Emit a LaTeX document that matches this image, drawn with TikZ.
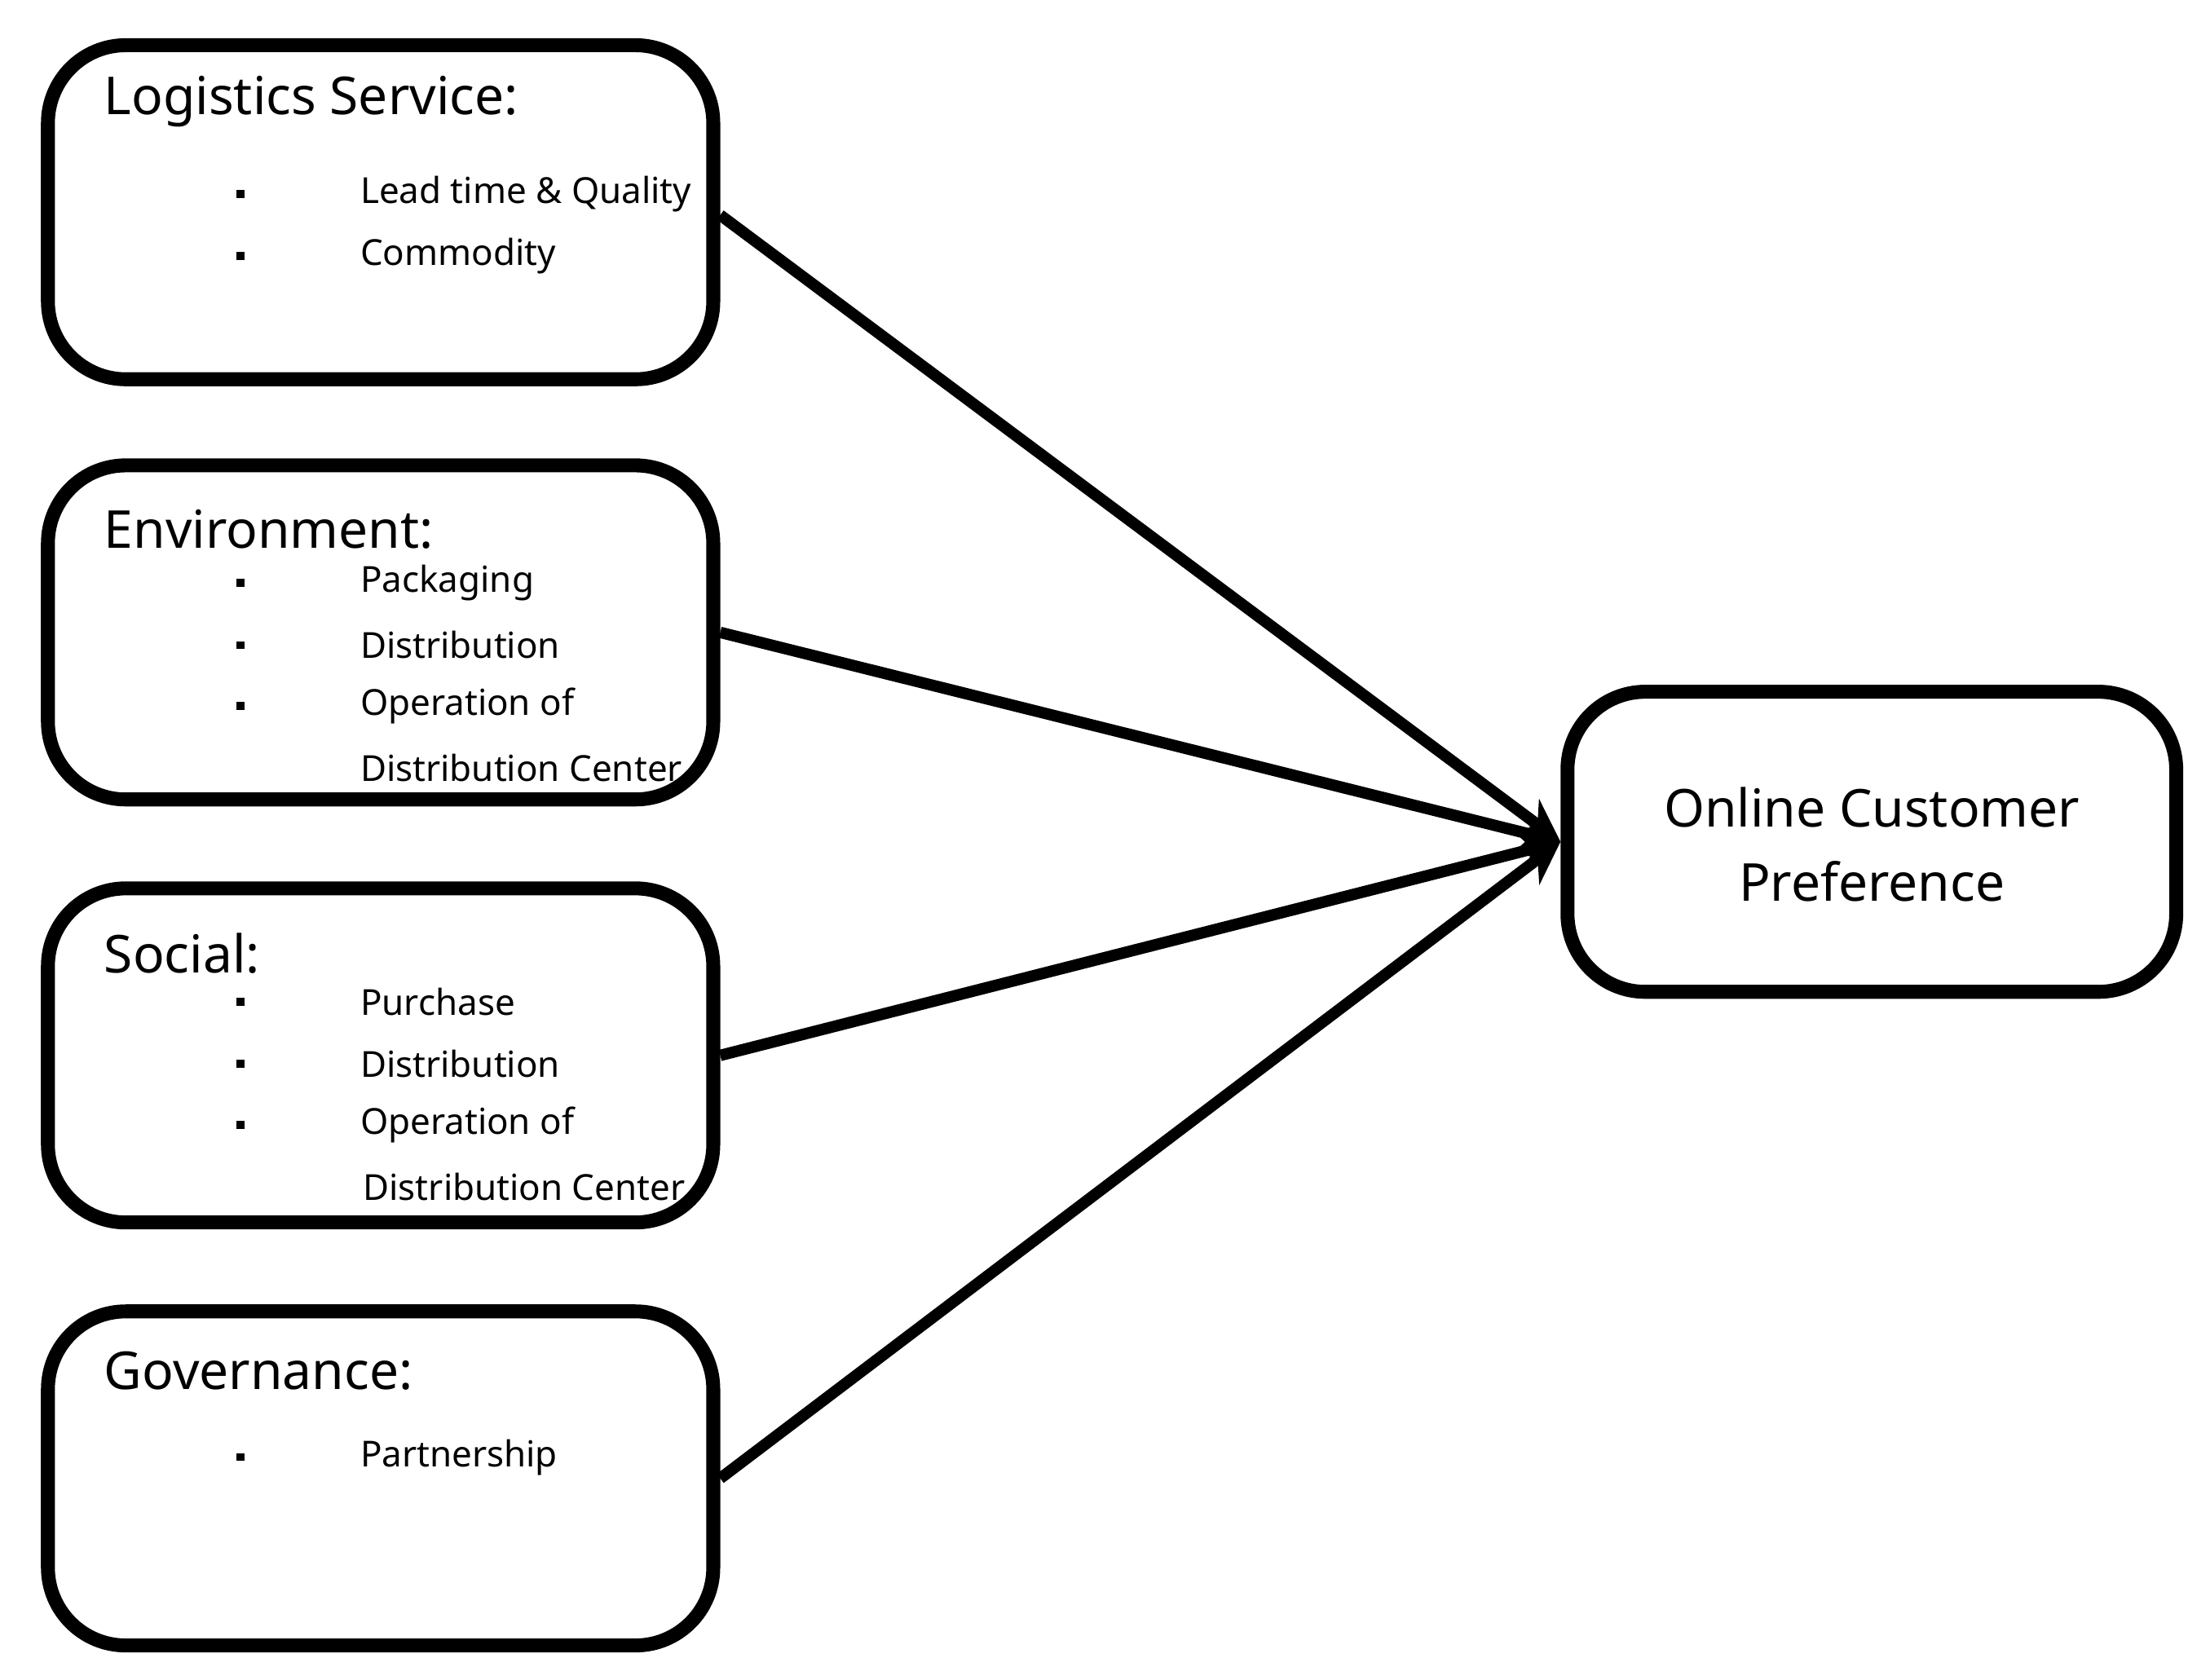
\documentclass[tikz,border=0pt]{standalone}
\usepackage{fontspec}
\setmainfont{Noto Sans}
\usetikzlibrary{arrows.meta}
\begin{document}
\begin{tikzpicture}[x=0.01cm, y=-0.01cm,
    box/.style={draw, line width=2.8pt, rounded corners=0.55cm, minimum width=4.7cm, minimum height=2.36cm},
    head/.style={anchor=west, font=\bfseries\fontsize{10.5}{12}\selectfont, inner sep=0pt},
    item/.style={anchor=west, font=\fontsize{7.2}{9}\selectfont, inner sep=0pt},
    dot/.style={fill, inner sep=0pt, minimum size=0.055cm},
    link/.style={line width=2.3pt, -{Stealth[length=0.3cm, width=0.3cm]}}]

  \useasboundingbox (0,0) rectangle (1562,1187);

  % factor boxes
  \node[box] (log) at (269,150) {};
  \node[box] (env) at (269,447) {};
  \node[box] (soc) at (269,746) {};
  \node[box] (gov) at (269,1045) {};

  % target box
  \node[box, minimum width=4.3cm, minimum height=2.12cm] (ocp) at (1323,595) {};
  \node[font=\bfseries\fontsize{10.5}{12}\selectfont, align=center] (ocpt) at (1323,597) {Online Customer\\[3pt]Preference};

  % headings
  \node[head] (logh) at (73,72) {Logistics Service:};
  \node[head] (envh) at (73,374) {Environment:};
  \node[head] (soch) at (73,674) {Social:};
  \node[head] (govh) at (73,969) {Governance:};

  % items
  \foreach \y/\t [count=\i] in {137/Lead time \& Quality, 181/Commodity,
      412/Packaging, 456/Distribution, 499/Operation of,
      708/Purchase, 752/Distribution, 795/Operation of,
      1030/Partnership} {
    \node[dot] (b\i) at (170,\y) {};
    \node[item] (t\i) at (254,\y) {\t};
  }
  \node[item] (t10) at (254,543) {Distribution Center};
  \node[item] (t11) at (256,839) {Distribution Center};

  % arrows
  \draw[link] (log.east |- 0,152) -- (ocp.west);
  \draw[link] (env.east) -- (ocp.west);
  \draw[link] (soc.east) -- (ocp.west);
  \draw[link] (gov.east) -- (ocp.west);
\end{tikzpicture}
\end{document}
